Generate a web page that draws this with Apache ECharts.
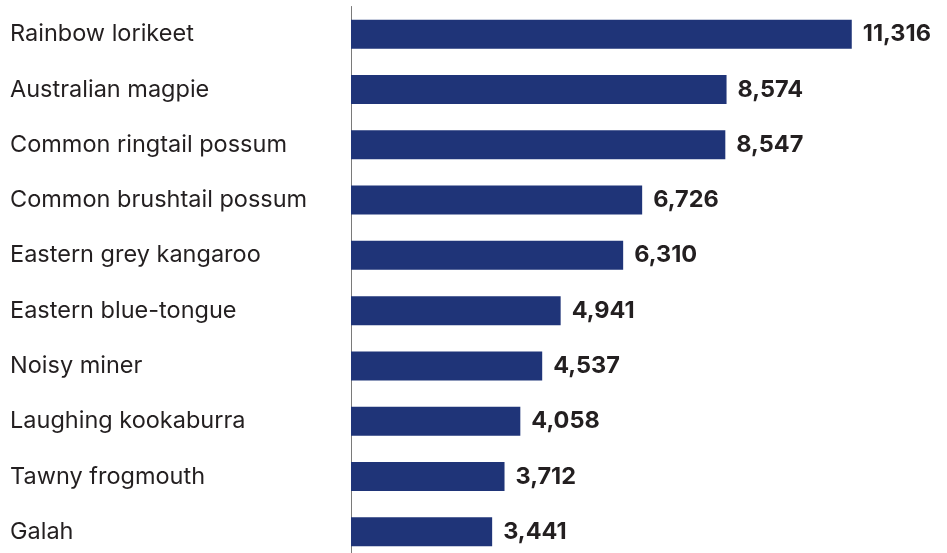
<!DOCTYPE html>
<html>
<head>
<meta charset="utf-8">
<script src="https://cdn.jsdelivr.net/npm/echarts@6/dist/echarts.min.js"></script>
<style>
  html, body { margin: 0; padding: 0; background: #ffffff; overflow: hidden; }
  #chart { width: 947px; height: 560px; }
</style>
</head>
<body>
<div id="chart"></div>
<script>
// Most-reported species, top to bottom
const species = [
  'Rainbow lorikeet',
  'Australian magpie',
  'Common ringtail possum',
  'Common brushtail possum',
  'Eastern grey kangaroo',
  'Eastern blue-tongue',
  'Noisy miner',
  'Laughing kookaburra',
  'Tawny frogmouth',
  'Galah'
];
const counts = [11316, 8574, 8547, 6726, 6310, 4941, 4537, 4058, 3712, 3441];

const chart = echarts.init(document.getElementById('chart'), null, { renderer: 'canvas' });

chart.setOption({
  animation: false,
  grid: { left: 351, top: 6.5, width: 532, height: 553, containLabel: false },
  xAxis: {
    type: 'value',
    min: 350,
    max: 12000,
    show: false
  },
  yAxis: {
    type: 'category',
    inverse: true,
    data: species,
    axisLine: { show: true, lineStyle: { color: '#7a7a7a', width: 1 } },
    axisTick: { show: false },
    axisLabel: {
      align: 'left',
      margin: 341,
      color: '#231f20',
      fontFamily: 'Inter, "Noto Sans", sans-serif',
      fontSize: 23.5
    }
  },
  series: [{
    type: 'bar',
    data: counts,
    barWidth: 29,
    itemStyle: { color: '#1f3478' },
    label: {
      show: true,
      position: 'right',
      distance: 11,
      color: '#231f20',
      fontFamily: 'Inter, "Noto Sans", sans-serif',
      fontWeight: 'bold',
      fontSize: 23.5,
      formatter: p => p.value.toLocaleString('en-US')
    }
  }]
});
</script>
</body>
</html>
